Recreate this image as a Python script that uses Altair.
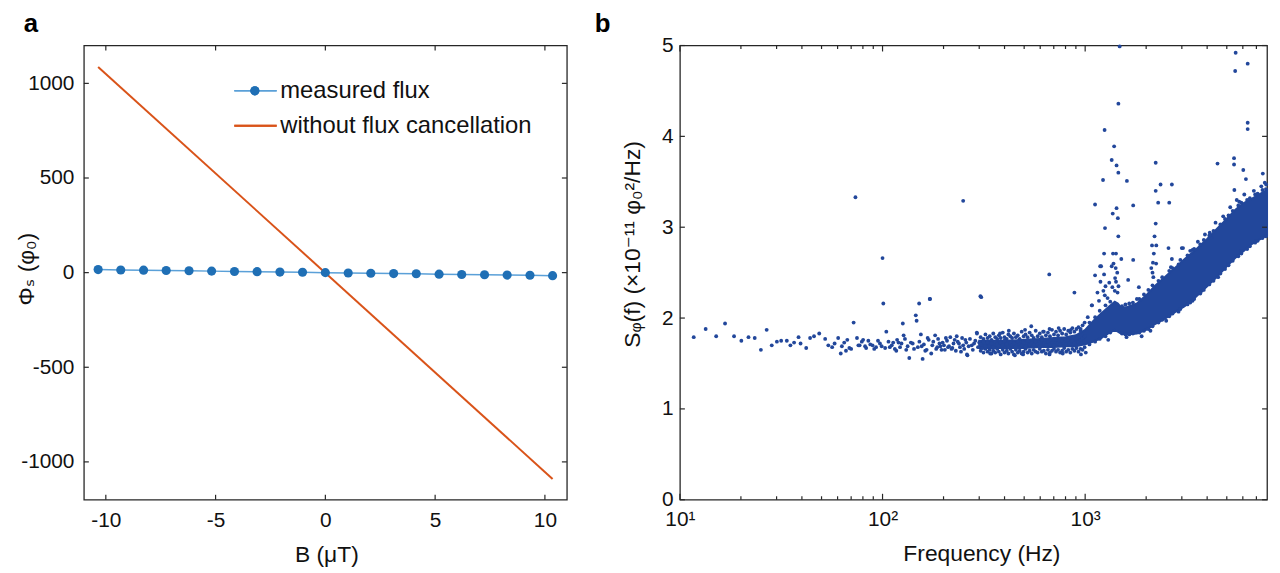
import altair as alt
import pandas as pd

FONT = "Liberation Sans, DejaVu Sans"
BLUE_A = "#1f6fb5"
BLUE_A_LINE = "#5aa0d8"
ORANGE = "#d95319"
BLUE_B = "#22479b"
FRAME = "#262626"
TXT = "#111111"

# ---------------- panel a data ----------------
B_meas = [-10.35, -9.32, -8.28, -7.25, -6.21, -5.18, -4.14, -3.11, -2.07, -1.04, 0.0,
          1.04, 2.07, 3.11, 4.14, 5.18, 6.21, 7.25, 8.28, 9.32, 10.35]
flux_meas = [16, 14, 13, 11, 10, 8, 6, 5, 3, 2, 0, -2, -3, -5, -6, -8, -10, -11, -13, -14, -16]
B_nocancel = [-10.35, 10.35]
flux_nocancel = [1087, -1090]
legend_labels = ["measured flux", "without flux cancellation"]
xa_ticks = [-10, -5, 0, 5, 10]
ya_ticks = [-1000, -500, 0, 500, 1000]

# ---------------- panel b data ----------------
f_sparse = [11.7, 13.4, 15.1, 16.7, 18.5, 20.1, 21.8, 23.4, 25.1, 26.8, 28.4, 30.1, 31.6, 33.7,
            35.1, 36.6, 38.5, 39.4, 42.0, 43.9, 45.9, 48.7, 52.1, 54.0, 56.4, 60.4, 62.2, 64.7,
            66.0, 68.6, 72.0, 74.8, 77.1, 80.2, 83.0, 85.1, 89.3, 92.9, 97.1, 100.9, 104.4,
            108.6, 112.9, 116.9, 119.9, 125.9, 127.1, 130.9, 135.5, 140.9, 145.9, 147.3, 149.3,
            151.6, 154.6, 157.7, 162.5, 169.0, 171.5, 173.9, 181.8, 186.2, 190.9, 195.5, 205.4,
            210.5, 221.2, 232.3, 238.2, 243.9, 256.3, 262.5, 275.6, 292.3, 304.1, 311.6,
            58, 63, 67, 70, 76, 79, 82, 87, 91, 95, 99, 103, 107, 111, 115, 118, 122, 124, 129,
            133, 138, 143, 152, 156, 160, 165, 167, 176, 178, 184, 188, 193, 198, 201, 203, 208,
            213, 216, 219, 224, 227, 230, 235, 241, 247, 250, 253, 259, 266, 270, 279, 283, 287,
            296, 300]
v_sparse = [1.79, 1.88, 1.80, 1.94, 1.80, 1.75, 1.79, 1.78, 1.65, 1.87, 1.70, 1.74, 1.75, 1.75,
            1.70, 1.73, 1.79, 1.72, 1.67, 1.78, 1.80, 1.83, 1.77, 1.70, 1.68, 1.78, 1.61, 1.73,
            1.64, 1.67, 1.95, 1.78, 1.70, 1.76, 1.67, 1.75, 1.70, 1.68, 1.72, 2.16, 1.85,
            1.68, 1.73, 1.64, 1.73, 1.94, 1.81, 1.65, 1.56, 1.72, 2.03, 1.97, 1.68,
            2.16, 1.82, 1.55, 1.64, 1.76, 2.21, 1.61, 1.81, 1.68, 1.72, 1.65, 1.78,
            1.68, 1.67, 1.80, 1.72, 1.63, 1.76, 1.59, 1.70, 1.83, 2.24, 1.67,
            1.72, 1.69, 1.76, 1.66, 1.70, 1.74, 1.69, 1.71, 1.66, 1.75, 1.69, 1.67, 1.74, 1.70,
            1.66, 1.76, 1.68, 1.72, 1.77, 1.69, 1.73, 1.66, 1.74, 1.69, 1.71, 1.65, 1.78, 1.70,
            1.74, 1.66, 1.77, 1.69, 1.73, 1.70, 1.65, 1.75, 1.69, 1.79, 1.66, 1.72, 1.76, 1.64,
            1.74, 1.68, 1.78, 1.70, 1.66, 1.73, 1.69, 1.77, 1.65, 1.72, 1.75, 1.68, 1.73]

# 300 Hz - 1 kHz cloud: frequencies with an upper, a lower and a middle reading each
f_mid = [305, 315, 322, 330, 338, 345, 352, 360, 368, 375, 383, 392, 400, 410, 418, 427, 436,
         445, 455, 465, 475, 486, 497, 508, 520, 532, 545, 557, 570, 583, 597, 611, 625, 640,
         655, 670, 686, 702, 718, 735, 752, 770, 788, 806, 825, 845, 865, 885, 906, 927, 949,
         971, 994]
v_mid_up = [1.79, 1.77, 1.82, 1.78, 1.80, 1.76, 1.83, 1.79, 1.77, 1.81, 1.78, 1.84, 1.79, 1.77,
            1.82, 1.80, 1.78, 1.83, 1.79, 1.81, 1.77, 1.85, 1.80, 1.82, 1.79, 1.84, 1.81, 1.78,
            1.86, 1.80, 1.83, 1.79, 1.85, 1.81, 1.84, 1.80, 1.87, 1.82, 1.85, 1.81, 1.86, 1.83,
            1.88, 1.82, 1.86, 1.84, 1.89, 1.85, 1.88, 1.90, 1.86, 1.92, 1.95]
v_mid_lo = [1.64, 1.62, 1.66, 1.63, 1.65, 1.61, 1.64, 1.62, 1.66, 1.63, 1.60, 1.65, 1.62, 1.64,
            1.61, 1.66, 1.63, 1.60, 1.65, 1.62, 1.64, 1.61, 1.63, 1.66, 1.62, 1.64, 1.61, 1.65,
            1.63, 1.62, 1.66, 1.63, 1.64, 1.61, 1.65, 1.62, 1.64, 1.66, 1.63, 1.65, 1.62, 1.64,
            1.67, 1.63, 1.65, 1.62, 1.66, 1.64, 1.67, 1.63, 1.66, 1.65, 1.68]
v_mid_c = [1.71, 1.74, 1.69, 1.73, 1.70, 1.72, 1.68, 1.74, 1.71, 1.69, 1.73, 1.70, 1.75, 1.71,
           1.68, 1.73, 1.70, 1.72, 1.69, 1.74, 1.71, 1.70, 1.73, 1.69, 1.75, 1.71, 1.72, 1.70,
           1.74, 1.71, 1.69, 1.75, 1.72, 1.70, 1.74, 1.71, 1.73, 1.70, 1.76, 1.72, 1.71, 1.75,
           1.73, 1.71, 1.76, 1.73, 1.75, 1.72, 1.77, 1.74, 1.76, 1.78, 1.80]

# dense band (core of the cloud): frequency, lower and upper edge
f_band = [300, 400, 500, 600, 700, 800, 900, 1000, 1100, 1200, 1300, 1400, 1450, 1500, 1600,
          1800, 2000, 2200, 2500, 2800, 3100, 3500, 4000, 4500, 5000, 5500, 6000, 6600, 7200, 7900]
lo_band = [1.67, 1.67, 1.67, 1.68, 1.68, 1.69, 1.69, 1.71, 1.74, 1.78, 1.83, 1.87, 1.85, 1.83, 1.82,
           1.83, 1.87, 1.93, 2.00, 2.07, 2.13, 2.23, 2.35, 2.46, 2.57, 2.66, 2.73, 2.81, 2.86, 2.91]
hi_band = [1.75, 1.75, 1.76, 1.77, 1.78, 1.79, 1.81, 1.87, 1.97, 2.05, 2.12, 2.18, 2.16, 2.12, 2.12,
           2.16, 2.25, 2.35, 2.46, 2.56, 2.65, 2.75, 2.87, 2.99, 3.09, 3.19, 3.26, 3.31, 3.36, 3.41]

# fringe readings along the band's upper and lower edges above 1 kHz
f_edge = [1050, 1120, 1180, 1260, 1330, 1520, 1580, 1650, 1720, 1850, 1950, 2050, 2150, 2300,
          2400, 2600, 2700, 2950, 3200, 3300, 3450, 3700, 3850, 4100, 4300, 4650, 4900, 5100,
          5350, 5700, 5900, 6300, 6500, 6900, 7100, 7500, 7800]
v_edge_up = [1.95, 2.01, 2.08, 2.14, 2.18, 2.13, 2.15, 2.16, 2.17, 2.21, 2.26, 2.31, 2.36, 2.41,
             2.45, 2.52, 2.55, 2.64, 2.69, 2.74, 2.76, 2.81, 2.86, 2.91, 2.96, 3.03, 3.09, 3.13,
             3.18, 3.24, 3.27, 3.30, 3.32, 3.36, 3.37, 3.41, 3.42]
v_edge_lo = [1.71, 1.74, 1.77, 1.80, 1.84, 1.83, 1.82, 1.82, 1.83, 1.84, 1.86, 1.88, 1.91, 1.95,
             1.98, 2.02, 2.05, 2.10, 2.15, 2.17, 2.21, 2.27, 2.31, 2.37, 2.41, 2.49, 2.54, 2.58,
             2.63, 2.68, 2.71, 2.76, 2.79, 2.83, 2.85, 2.88, 2.90]

# fringe points around the band edges
f_fringe = [261, 340, 450, 494, 667, 775, 953, 1007, 2512, 2890, 3389, 3760, 4532, 5083, 5900, 7000,
            1300, 1600, 1900, 2100, 292, 542, 667, 505, 850, 1030, 1080, 420, 380, 740, 620, 950,
            2998, 3389, 2578, 4121, 4185, 2679, 2890, 2650, 3600, 4800, 5200, 5600, 6100, 6800,
            7400, 7700, 3900, 4400]
v_fringe = [1.60, 1.61, 1.59, 1.60, 1.60, 1.61, 1.60, 1.62, 1.97, 2.07, 2.19, 2.30, 2.45, 2.59, 2.74,
            2.85, 1.76, 1.79, 1.80, 1.86, 1.84, 1.91, 1.88, 1.87, 1.87, 2.01, 2.14, 1.86, 1.83, 1.89,
            1.85, 1.88, 2.77, 2.75, 2.77, 2.94, 2.88, 2.65, 2.59, 2.56, 2.84, 3.12, 3.22, 3.30, 3.36,
            3.40, 3.45, 3.49, 2.92, 3.05]

# isolated outliers
f_out = [73.5, 100, 171, 250, 307, 665, 885, 1119, 1225, 1247, 1352, 1390, 1429, 1458, 1459, 1480,
         1607, 1726, 2229, 2229, 2679, 2600, 2229, 1368, 1429, 1450, 1253, 1458, 1240, 1372, 1420,
         1186, 1199, 1352, 1508, 1726, 1119, 1240, 1405, 1630, 1315, 1362, 1841, 1800, 1079, 1170,
         2138, 2182, 2160, 2244, 3041, 4500, 5430, 5430, 6030, 6215, 5450, 5760, 7530, 7820, 5530,
         5500, 6340, 6340, 6340, 2356, 2293, 1250, 1260, 1400, 1420, 1440, 1445, 1230, 1380, 1415,
         1290, 1460, 1150, 1190, 2150, 2170, 2200, 2240, 2120]
v_out = [3.33, 2.66, 2.21, 3.29, 2.23, 2.48, 2.28, 3.25, 3.52, 4.07, 3.74, 3.89, 3.68, 3.60, 4.36, 4.99,
         3.51, 3.24, 3.71, 3.40, 3.47, 3.27, 3.04, 3.15, 3.21, 3.10, 2.99, 2.90, 2.71, 2.71, 2.71,
         2.57, 2.57, 2.57, 2.65, 2.64, 2.47, 2.48, 2.44, 2.42, 2.39, 2.34, 2.34, 2.21, 2.14, 2.19,
         2.80, 2.71, 2.61, 2.80, 2.77, 3.70, 3.76, 3.69, 3.63, 3.53, 3.41, 3.28, 3.59, 3.47, 4.92,
         4.72, 4.80, 4.15, 4.08, 3.47, 3.27, 2.25, 2.35, 2.30, 2.40, 2.50, 2.28, 2.30, 2.60, 2.55,
         2.22, 2.35, 2.28, 2.40, 2.50, 2.45, 2.90, 2.60, 2.55]

xb_major = [10, 100, 1000]
xb_minor = [20, 30, 40, 50, 60, 70, 80, 90, 200, 300, 400, 500, 600, 700, 800, 900,
            2000, 3000, 4000, 5000, 6000, 7000]
yb_ticks = [0, 1, 2, 3, 4, 5]

W_A, W_B, H = 487, 592, 458
TICK = 5


def ax(**kw):
    base = dict(domain=False, grid=False, ticks=True, tickOpacity=0, tickSize=5, offset=-5,
                labelFont=FONT, labelFontSize=21, labelColor=TXT, labelPadding=10,
                labelFlush=False, labelOverlap=False,
                titleFont=FONT, titleFontSize=23, titleColor=TXT, titleFontWeight="normal")
    base.update(kw)
    return alt.Axis(**base)


def tick_rules(values, scale, channel, side, width, height, length):
    """Inward tick marks along one side of the frame, placed through the scale."""
    df = pd.DataFrame({"t": values})
    base = alt.Chart(df).mark_rule(color=FRAME, strokeWidth=1.2)
    if channel == "x":
        pos = alt.X("t:Q", scale=scale, axis=None)
        if side == "bottom":
            return base.encode(x=pos, y=alt.value(height), y2=alt.value(height - length))
        return base.encode(x=pos, y=alt.value(0), y2=alt.value(length))
    pos = alt.Y("t:Q", scale=scale, axis=None)
    if side == "left":
        return base.encode(y=pos, x=alt.value(0), x2=alt.value(length))
    return base.encode(y=pos, x=alt.value(width), x2=alt.value(width - length))


# ---------------- panel a ----------------
xa = alt.Scale(domain=[-11, 11], nice=False, zero=False)
ya = alt.Scale(domain=[-1200, 1200], nice=False, zero=False)

df_meas = pd.DataFrame({"B": B_meas, "flux": flux_meas})
df_noc = pd.DataFrame({"B": B_nocancel, "flux": flux_nocancel})

a_line_orange = alt.Chart(df_noc).mark_line(color=ORANGE, strokeWidth=2).encode(
    x=alt.X("B:Q", scale=xa, axis=ax(orient="bottom", values=xa_ticks, labelExpr="'' + datum.value",
                                     title="B (μT)", titleY=67, titleX=244.5,
                                     titleBaseline="alphabetic")),
    y=alt.Y("flux:Q", scale=ya, axis=ax(orient="left", values=ya_ticks, labelExpr="'' + datum.value",
                                        title="Φₛ (φ₀)", titleX=-56, titleY=225,
                                        titleBaseline="alphabetic")),
)
a_line_blue = alt.Chart(df_meas).mark_line(color=BLUE_A_LINE, strokeWidth=1.5).encode(
    x=alt.X("B:Q", scale=xa, axis=None),
    y=alt.Y("flux:Q", scale=ya, axis=None),
)
a_pts = alt.Chart(df_meas).mark_circle(color=BLUE_A, size=85, opacity=1).encode(
    x=alt.X("B:Q", scale=xa, axis=None),
    y=alt.Y("flux:Q", scale=ya, axis=None),
)

leg_df = pd.DataFrame({"t": legend_labels})
leg1_line = alt.Chart(leg_df).mark_rule(color=BLUE_A_LINE, strokeWidth=1.5).encode(
    x=alt.value(151.7), x2=alt.value(194.4), y=alt.value(45.7))
leg1_pt = alt.Chart(leg_df).mark_circle(color=BLUE_A, size=85, opacity=1).encode(
    x=alt.value(172.4), y=alt.value(45.7))
leg2_line = alt.Chart(leg_df).mark_rule(color=ORANGE, strokeWidth=2).encode(
    x=alt.value(151.7), x2=alt.value(194.4), y=alt.value(81))
leg1_txt = alt.Chart(leg_df).transform_filter(alt.datum.t == legend_labels[0]).mark_text(
    align="left", baseline="middle", font=FONT, fontSize=24, color=TXT).encode(
    x=alt.value(198), y=alt.value(45.7), text="t:N")
leg2_txt = alt.Chart(leg_df).transform_filter(alt.datum.t == legend_labels[1]).mark_text(
    align="left", baseline="middle", font=FONT, fontSize=24, color=TXT).encode(
    x=alt.value(198), y=alt.value(81), text="t:N")

lab_df = pd.DataFrame({"t": ["a", "b"]})
lab_a = alt.Chart(lab_df).transform_filter(alt.datum.t == "a").mark_text(
    align="left", baseline="alphabetic", font=FONT, fontSize=26, fontWeight="bold", color="#000").encode(
    x=alt.value(-60.6), y=alt.value(-13.3), text="t:N")

ticks_a = [
    tick_rules(xa_ticks, xa, "x", "bottom", W_A, H, TICK),
    tick_rules(xa_ticks, xa, "x", "top", W_A, H, TICK),
    tick_rules(ya_ticks, ya, "y", "left", W_A, H, TICK),
    tick_rules(ya_ticks, ya, "y", "right", W_A, H, TICK),
]

panel_a = alt.layer(a_line_orange, a_line_blue, a_pts, *ticks_a, leg1_line, leg2_line, leg1_pt,
                    leg1_txt, leg2_txt, lab_a).resolve_axis(
    x="independent", y="independent").properties(width=W_A, height=H)

# ---------------- panel b ----------------
xb = alt.Scale(type="log", domain=[10, 7900], nice=False)
yb = alt.Scale(domain=[0, 5], nice=False, zero=False)

df_band = pd.DataFrame({"f": f_band, "lo": lo_band, "hi": hi_band})
df_pts = pd.DataFrame({"f": f_sparse + f_mid + f_mid + f_mid + f_fringe + f_edge + f_edge + f_out,
                       "v": v_sparse + v_mid_up + v_mid_lo + v_mid_c + v_fringe + v_edge_up
                       + v_edge_lo + v_out})

sup = "datum.value == 10 ? '10¹' : datum.value == 100 ? '10²' : '10³'"

b_band = alt.Chart(df_band).mark_area(color=BLUE_B, opacity=1, stroke=BLUE_B, strokeWidth=2).encode(
    x=alt.X("f:Q", scale=xb, axis=ax(orient="bottom", values=xb_major, labelExpr=sup, tickSize=6,
                                     offset=-6, labelPadding=9,
                                     title="Frequency (Hz)", titleY=67, titleX=304,
                                     titleBaseline="alphabetic")),
    y=alt.Y("lo:Q", scale=yb, axis=ax(orient="left", values=yb_ticks, labelPadding=7,
                                      title="Sᵩ(f) (×10⁻¹¹ φ₀²/Hz)", titleX=-46, titleY=200,
                                      titleBaseline="alphabetic")),
    y2="hi:Q",
)
b_pts = alt.Chart(df_pts).mark_circle(color=BLUE_B, size=15, opacity=1).encode(
    x=alt.X("f:Q", scale=xb, axis=None),
    y=alt.Y("v:Q", scale=yb, axis=None),
)
lab_b = alt.Chart(lab_df).transform_filter(alt.datum.t == "b").mark_text(
    align="left", baseline="alphabetic", font=FONT, fontSize=26, fontWeight="bold", color="#000").encode(
    x=alt.value(-86), y=alt.value(-13.3), text="t:N")

ticks_b = [
    tick_rules(xb_major, xb, "x", "bottom", W_B, H, 6),
    tick_rules(xb_major, xb, "x", "top", W_B, H, 6),
    tick_rules(xb_minor, xb, "x", "bottom", W_B, H, 3.5),
    tick_rules(xb_minor, xb, "x", "top", W_B, H, 3.5),
    tick_rules(yb_ticks, yb, "y", "left", W_B, H, TICK),
    tick_rules(yb_ticks, yb, "y", "right", W_B, H, TICK),
]

panel_b = alt.layer(b_band, b_pts, *ticks_b, lab_b).resolve_axis(
    x="independent", y="independent").properties(width=W_B, height=H)

chart = alt.hconcat(panel_a, panel_b, spacing=114, bounds="flush").properties(
    padding={"left": 6.5, "top": 0.5, "right": 0, "bottom": 0}, background="white"
).configure_view(stroke=FRAME, strokeWidth=1.3)

chart.save("out.html", embed_options={"renderer": "svg", "actions": False})
